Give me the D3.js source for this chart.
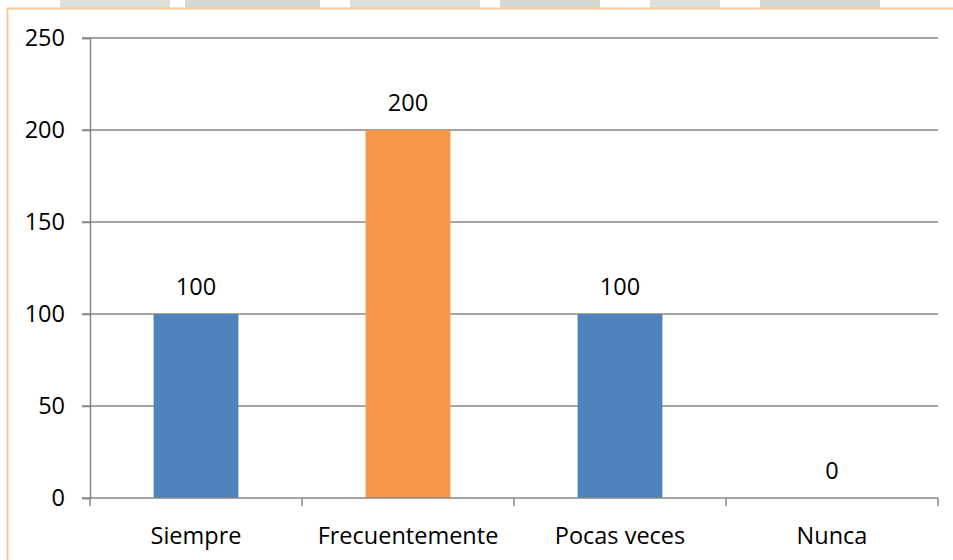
<!DOCTYPE html>
<html>
<head>
<meta charset="utf-8">
<script src="https://cdn.jsdelivr.net/npm/d3@7"></script>
<style>
  body { margin: 0; background: #fff; }
  text { font-family: "Open Sans", sans-serif; fill: #000; }
</style>
</head>
<body>
<div class="chart"></div>
<script>
// data
const categories = ['Siempre', 'Frecuentemente', 'Pocas veces', 'Nunca'];
const values = [100, 200, 100, 0];
const barColors = ['#4F81BD', '#F79646', '#4F81BD', '#4F81BD'];
const yTicks = [0, 50, 100, 150, 200, 250];

const W = 953, H = 560;
const margin = {left: 90, right: 15, top: 38, bottom: 62};
const FS = '23.5px';

const svg = d3.select('.chart').append('svg')
	.attr('width', W)
	.attr('height', H);

// faded watermark strip above the frame
const wm = svg.append('g').attr('opacity', 0.5);
[[60,170],[185,320],[350,480],[500,600],[650,720],[760,880]].forEach(function(s, i){
	wm.append('rect')
		.attr('x', s[0]).attr('y', 0)
		.attr('width', s[1]-s[0]).attr('height', 8)
		.attr('fill', i%2 ? '#aab5a4' : '#bcc5b6');
});

// outer frame (only left and top visible)
svg.append('path')
	.attr('d', 'M7.5,560 V8.5 H953')
	.attr('fill', 'none')
	.attr('stroke', '#FAC9A0')
	.attr('stroke-width', 2);

const x = d3.scaleBand()
	.domain(categories)
	.range([margin.left, W - margin.right])
	.paddingInner(0.6)
	.paddingOuter(0.3);

const y = d3.scaleLinear()
	.domain([0, 250])
	.range([H - margin.bottom, margin.top]);

// gridlines
svg.append('g')
	.selectAll('line')
	.data(yTicks.filter(function(d){return d > 0}))
	.join('line')
	.attr('x1', margin.left - 8)
	.attr('x2', W - margin.right)
	.attr('y1', function(d){return y(d)})
	.attr('y2', function(d){return y(d)})
	.attr('stroke', '#878787')
	.attr('stroke-width', 1.5);

// y axis
const yAxis = svg.append('g')
	.attr('transform', 'translate(' + margin.left + ',0)')
	.call(d3.axisLeft(y).tickValues(yTicks).tickSize(8).tickPadding(17));
yAxis.select('.domain').attr('stroke', '#878787').attr('stroke-width', 1.5);
yAxis.selectAll('.tick line').attr('stroke', '#878787').attr('stroke-width', 1.5);
yAxis.selectAll('.tick text').style('font-size', FS).style('font-family', '"Open Sans", sans-serif').attr('fill', '#000');

// bars
svg.append('g')
	.selectAll('rect')
	.data(values)
	.join('rect')
	.attr('x', function(d, i){return x(categories[i])})
	.attr('y', function(d){return y(d)})
	.attr('width', x.bandwidth())
	.attr('height', function(d){return y(0) - y(d)})
	.attr('fill', function(d, i){return barColors[i]});

// x axis: boundary ticks between categories
const bounds = d3.range(categories.length + 1).map(function(i){return margin.left + i * (W - margin.right - margin.left) / categories.length});
svg.append('line')
	.attr('x1', margin.left - 8).attr('x2', W - margin.right)
	.attr('y1', y(0)).attr('y2', y(0))
	.attr('stroke', '#878787').attr('stroke-width', 1.5);
svg.append('g')
	.selectAll('line')
	.data(bounds)
	.join('line')
	.attr('x1', function(d){return d}).attr('x2', function(d){return d})
	.attr('y1', y(0)).attr('y2', y(0) + 8)
	.attr('stroke', '#878787').attr('stroke-width', 1.5);

// category labels
svg.append('g')
	.selectAll('text')
	.data(categories)
	.join('text')
	.attr('x', function(d){return x(d) + x.bandwidth()/2})
	.attr('y', H - 16)
	.attr('text-anchor', 'middle')
	.style('font-size', FS)
	.text(function(d){return d});

// value labels
svg.append('g')
	.selectAll('text')
	.data(values)
	.join('text')
	.attr('x', function(d, i){return x(categories[i]) + x.bandwidth()/2})
	.attr('y', function(d){return y(d) - 19})
	.attr('text-anchor', 'middle')
	.style('font-size', FS)
	.text(function(d){return d});
</script>
</body>
</html>
